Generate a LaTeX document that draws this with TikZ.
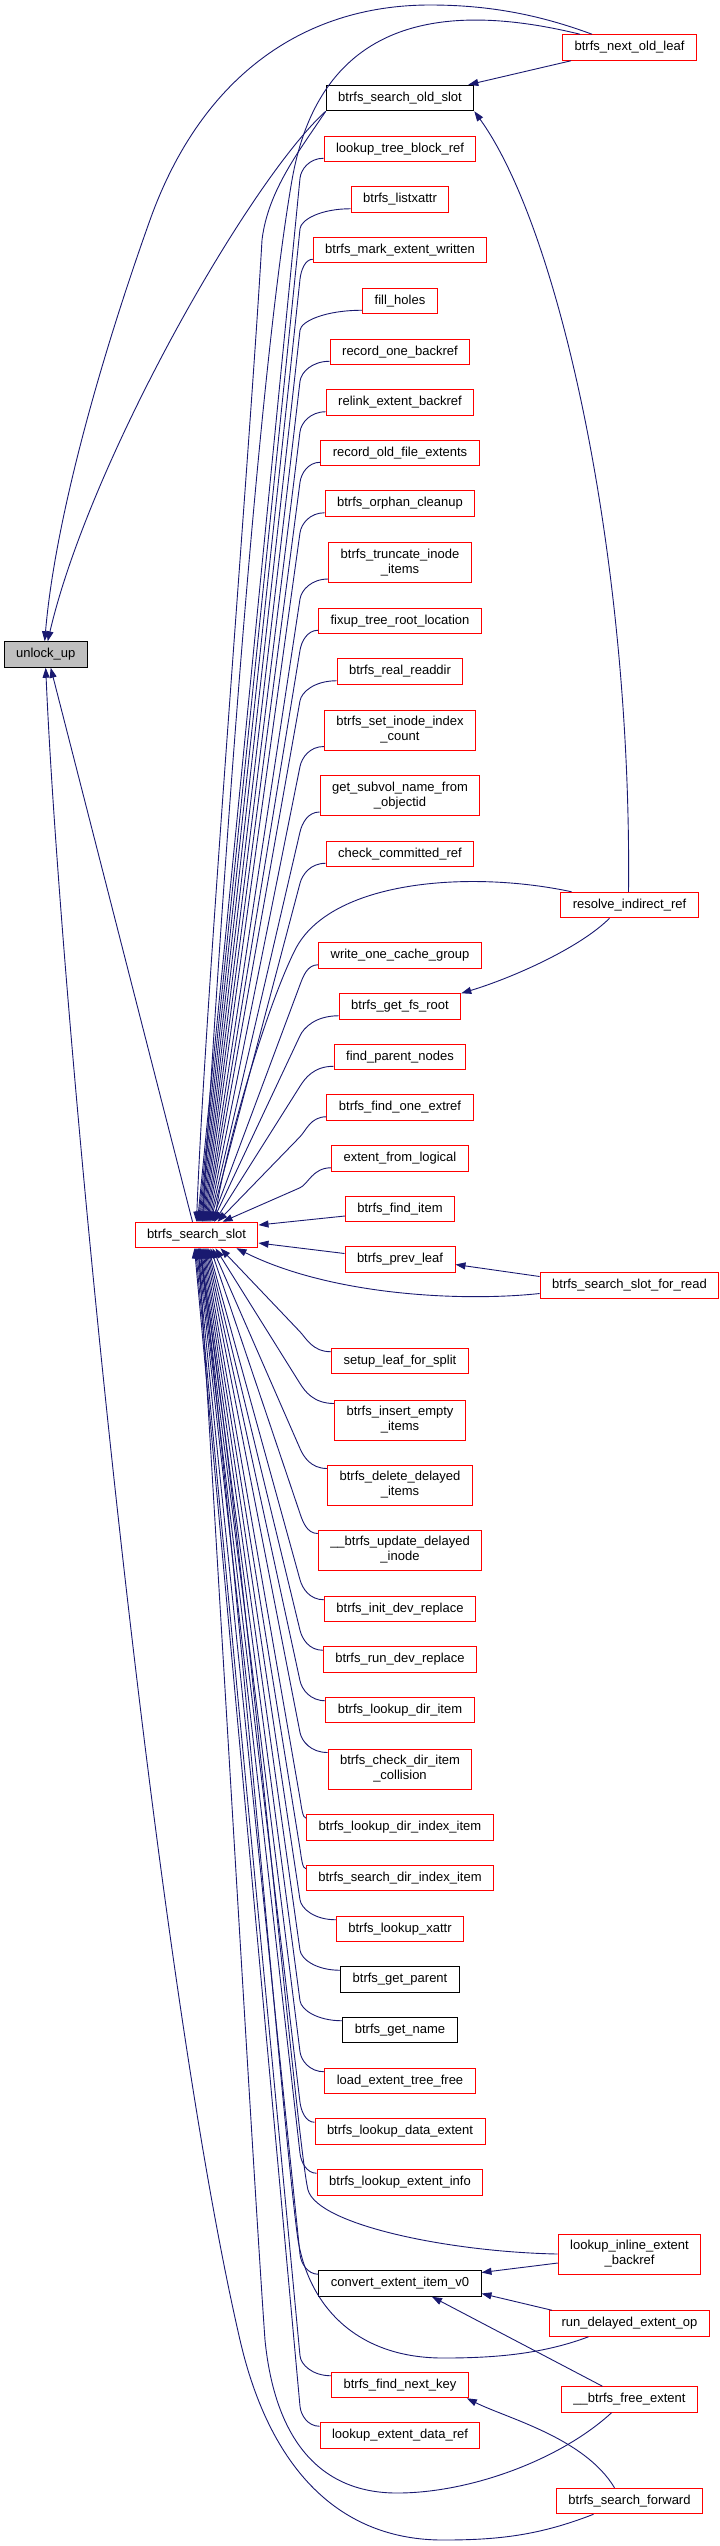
\documentclass[tikz,border=0pt]{standalone}
\usepackage{fontspec}
\setmainfont{Liberation Sans}
\usepackage{tikz}
\usetikzlibrary{arrows.meta,calc,positioning}

\definecolor{callblue}{RGB}{25,25,112}
\definecolor{rootgray}{RGB}{191,191,191}

\begin{document}
\begin{tikzpicture}[x=1pt,y=-1pt,>={Triangle[length=10pt,width=7pt]},
  fn/.style={draw=red,line width=1pt,fill=white,inner xsep=12pt,inner ysep=2pt,
    minimum height=25.5pt,align=center,font=\fontsize{13}{15}\selectfont},
  fnb/.style={fn,draw=black},
  dbl/.style={minimum height=40pt},
  call/.style={callblue,line width=0.9pt,->}]
\useasboundingbox (0,0) rectangle (720,2546);

% the function and its main caller
\node[fnb,fill=rootgray] (ul) at (45.7,654.5) {unlock\_up};
\node[fn] (ss) at (196.5,1235) {btrfs\_search\_slot};

% middle column
\node[fnb] (sos) at (400,98) {btrfs\_search\_old\_slot};
\node[fn] (ltbr) at (400,149) {lookup\_tree\_block\_ref};
\node[fn] (lsx) at (400,199.5) {btrfs\_listxattr};
\node[fn] (mew) at (400,250) {btrfs\_mark\_extent\_written};
\node[fn] (fh) at (400,301) {fill\_holes};
\node[fn] (rob) at (400,352) {record\_one\_backref};
\node[fn] (reb) at (400,402.5) {relink\_extent\_backref};
\node[fn] (rofe) at (400,453) {record\_old\_file\_extents};
\node[fn] (oc) at (400,503.5) {btrfs\_orphan\_cleanup};
\node[fn,dbl] (tii) at (400,562.5) {btrfs\_truncate\_inode\\\_items};
\node[fn] (ftrl) at (400,621) {fixup\_tree\_root\_location};
\node[fn] (rrd) at (400,671.5) {btrfs\_real\_readdir};
\node[fn,dbl] (siic) at (400,730) {btrfs\_set\_inode\_index\\\_count};
\node[fn,dbl] (gsn) at (400,795.5) {get\_subvol\_name\_from\\\_objectid};
\node[fn] (ccr) at (400,854) {check\_committed\_ref};
\node[fn] (wocg) at (400,955.5) {write\_one\_cache\_group};
\node[fn] (gfr) at (400,1006.5) {btrfs\_get\_fs\_root};
\node[fn] (fpn) at (400,1057) {find\_parent\_nodes};
\node[fn] (foe) at (400,1107.5) {btrfs\_find\_one\_extref};
\node[fn] (efl) at (400,1158.5) {extent\_from\_logical};
\node[fn] (fi) at (400,1209) {btrfs\_find\_item};
\node[fn] (pl) at (400,1259.5) {btrfs\_prev\_leaf};
\node[fn] (slfs) at (400,1361) {setup\_leaf\_for\_split};
\node[fn,dbl] (iei) at (400,1420) {btrfs\_insert\_empty\\\_items};
\node[fn,dbl] (ddi) at (400,1485) {btrfs\_delete\_delayed\\\_items};
\node[fn,dbl] (udi) at (400,1550) {\_\_btrfs\_update\_delayed\\\_inode};
\node[fn] (idr) at (400,1609) {btrfs\_init\_dev\_replace};
\node[fn] (rdr) at (400,1659.5) {btrfs\_run\_dev\_replace};
\node[fn] (ldi) at (400,1710) {btrfs\_lookup\_dir\_item};
\node[fn,dbl] (cdic) at (400,1769) {btrfs\_check\_dir\_item\\\_collision};
\node[fn] (ldii) at (400,1827.5) {btrfs\_lookup\_dir\_index\_item};
\node[fn] (sdii) at (400,1878) {btrfs\_search\_dir\_index\_item};
\node[fn] (lx) at (400,1929) {btrfs\_lookup\_xattr};
\node[fnb] (gp) at (400,1979.5) {btrfs\_get\_parent};
\node[fnb] (gn) at (400,2030) {btrfs\_get\_name};
\node[fn] (letf) at (400,2081) {load\_extent\_tree\_free};
\node[fn] (lde) at (400,2131.5) {btrfs\_lookup\_data\_extent};
\node[fn] (lei) at (400,2182.5) {btrfs\_lookup\_extent\_info};
\node[fnb] (cv) at (400,2283.5) {convert\_extent\_item\_v0};
\node[fn] (nk) at (400,2385) {btrfs\_find\_next\_key};
\node[fn] (ledr) at (400,2435.5) {lookup\_extent\_data\_ref};

% right column
\node[fn] (nol) at (629.5,47.5) {btrfs\_next\_old\_leaf};
\node[fn] (rir) at (629.5,905) {resolve\_indirect\_ref};
\node[fn] (sfr) at (629.5,1285.5) {btrfs\_search\_slot\_for\_read};
\node[fn,dbl] (lie) at (629.5,2254) {lookup\_inline\_extent\\\_backref};
\node[fn] (rdo) at (629.5,2323.5) {run\_delayed\_extent\_op};
\node[fn] (bfe) at (629.5,2399.5) {\_\_btrfs\_free\_extent};
\node[fn] (sf) at (629.5,2501) {btrfs\_search\_forward};

% where the bundle of callers bends towards search_slot
\coordinate (bundle) at (300,0);

% callers of unlock_up
\draw[call] ([xshift=30pt]nol.north west) .. controls (540,15) and (490,5) .. (430,5)
  .. controls (300,5) and (200,80) .. (150,220) .. controls (100,360) and (55,520) .. ([xshift=-1pt]ul.north);
\draw[call] (sos.south west) .. controls (250,180) and (90,460) .. ([xshift=2pt]ul.north);
\draw[call] ([xshift=-4pt]ss.north) -- ([xshift=5pt]ul.south);
\draw[call] ([xshift=-36pt]sf.south) .. controls (540,2535) and (500,2540) .. (443,2540)
  .. controls (340,2540) and (270,2470) .. (240,2340) .. controls (150,1950) and (60,1000) .. (ul.south);

% top right
\draw[call] ([xshift=9pt]nol.south west) -- ([xshift=-6pt]sos.north east);
\draw[call] ([xshift=18pt]nol.north west) .. controls (440,0) and (320,20) .. (292,180)
  .. controls (254,400) and (215,1000) .. ([xshift=6pt]ss.north);
\draw[call] (sos.south west) .. controls (300,150) and (268,190) .. (262,240)
  .. controls (250,450) and (205,1000) .. (ss.north);
\draw[call] ([xshift=-1pt]rir.north) .. controls (632,560) and (560,230) .. (sos.south east);
\draw[call] ([xshift=-58pt]rir.north) .. controls (470,870) and (330,880) .. (295,950)
  .. controls (265,1010) and (225,1150) .. ([xshift=18pt]ss.north);
\draw[call] ([xshift=-20pt]rir.south) .. controls +(-30,30) and +(50,-15) .. (gfr.north east);

% into search_slot from above
\foreach \n/\dx in {ltbr/1,lsx/2,mew/3,fh/4,rob/5,reb/6,rofe/7,oc/8,tii/9,ftrl/10,
    rrd/11,siic/12,gsn/13,ccr/14,wocg/15,gfr/16,fpn/18,foe/21,efl/26}
  \draw[call] ([yshift=4pt]\n.south west)
    .. controls ($([yshift=4pt]\n.south west)!0.6!([yshift=4pt]\n.south west -| bundle)$)
    and ($([yshift=-16pt]\n.south west -| bundle)!-9pt!([xshift=\dx pt]ss.north)$)
    .. ([yshift=-16pt]\n.south west -| bundle) -- ([xshift=\dx pt]ss.north);

\draw[call] ([yshift=-7pt]fi.west) -- ([yshift=10pt]ss.east);
\draw[call] ([yshift=6pt]pl.west) -- ([yshift=-8pt]ss.east);
\draw[call] ([yshift=9pt]sfr.west) -- ([yshift=-5pt]pl.east);
\draw[call] ([yshift=-8pt]sfr.west) .. controls (460,1302) and (330,1295) .. ([xshift=-22pt]ss.south east);

% into search_slot from below
\foreach \n/\dx in {slfs/24,iei/19,ddi/16,udi/14,idr/12,rdr/11,ldi/10,cdic/9,ldii/8,
    sdii/7,lx/6,gp/5,gn/4,letf/3,lde/2,lei/1,cv/0,nk/-1,ledr/-2}
  \draw[call] ([yshift=-4pt]\n.north west)
    .. controls ($([yshift=-4pt]\n.north west)!0.6!([yshift=-4pt]\n.north west -| bundle)$)
    and ($([yshift=16pt]\n.north west -| bundle)!-9pt!([xshift=\dx pt]ss.south)$)
    .. ([yshift=16pt]\n.north west -| bundle) -- ([xshift=\dx pt]ss.south);

% bottom right
\draw[call] (lie.west) .. controls (450,2252) and (318,2225) .. (308,2190)
  .. controls (296,2140) and (240,1500) .. ([xshift=3pt]ss.south);
\draw[call] ([yshift=-9pt]lie.west) -- ([yshift=11pt]cv.east);
\draw[call] ([xshift=-41pt]rdo.south) .. controls (540,2355) and (490,2358) .. (443,2358)
  .. controls (360,2358) and (310,2310) .. (298,2240) .. controls (285,2150) and (240,1600) .. ([xshift=4pt]ss.south);
\draw[call] ([xshift=3pt]rdo.north west) -- ([yshift=-10pt]cv.east);
\draw[call] ([xshift=-18pt]bfe.south) .. controls (560,2460) and (470,2493) .. (397,2493)
  .. controls (320,2493) and (275,2440) .. (265,2340) .. controls (255,2200) and (220,1600) .. ([xshift=2pt]ss.south);
\draw[call] ([xshift=-27pt]bfe.north) -- ([xshift=32pt]cv.south);
\draw[call] ([xshift=-15pt]sf.north) .. controls +(-30,-50) and +(40,20) .. ([xshift=-2pt]nk.south east);
\end{tikzpicture}
\end{document}
